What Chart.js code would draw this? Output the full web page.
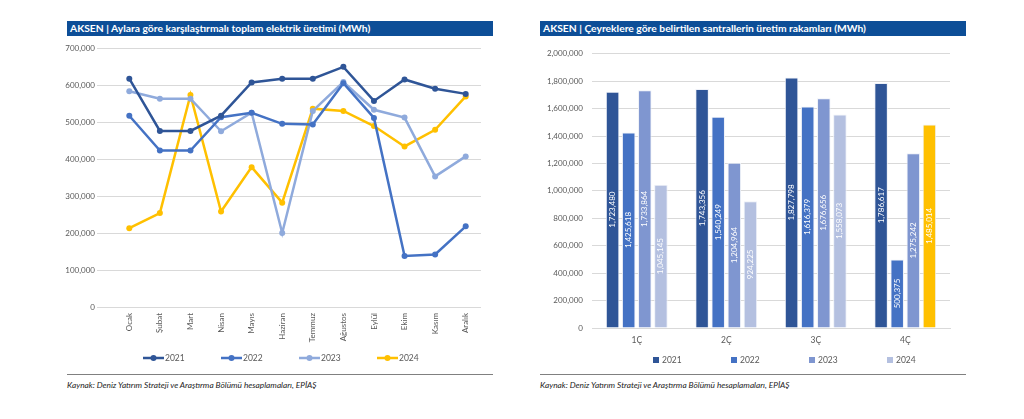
<!DOCTYPE html>
<html>
<head>
<meta charset="utf-8">
<script src="https://cdn.jsdelivr.net/npm/chart.js@4.4.1/dist/chart.umd.min.js"></script>
<style>
  body { margin: 0; width: 1024px; height: 419px; background: #fff; position: relative; overflow: hidden; font-family: Lato, "Open Sans", sans-serif; }
  .baslik { position: absolute; height: 15px; background: #0D4E97; color: #fff; font-weight: bold; font-size: 10.3px; line-height: 15px; padding-left: 3px; box-sizing: border-box; }
  .cizgi { position: absolute; height: 0; border-top: 1.5px solid #808080; }
  .kaynak { position: absolute; font-style: italic; font-size: 8.3px; color: #222; }
  .kutu { position: absolute; }
</style>
</head>
<body>
<div class="baslik" style="left:67px; top:21px; width:426px;">AKSEN | Aylara göre karşılaştırmalı toplam elektrik üretimi (MWh)</div>
<div class="baslik" style="left:540px; top:21px; width:426px;">AKSEN | Çeyreklere göre belirtilen santrallerin üretim rakamları (MWh)</div>

<div class="kutu" style="left:60px; top:40px; width:430px; height:336px;"><canvas id="grafikAylik"></canvas></div>
<div class="kutu" style="left:535px; top:40px; width:430px; height:336px;"><canvas id="grafikCeyrek"></canvas></div>

<div class="cizgi" style="left:67px; top:374px; width:426px;"></div>
<div class="cizgi" style="left:540px; top:374px; width:426px;"></div>
<div class="kaynak" style="left:67px; top:380px;">Kaynak: Deniz Yatırım Strateji ve Araştırma Bölümü hesaplamaları, EPİAŞ</div>
<div class="kaynak" style="left:540px; top:380px;">Kaynak: Deniz Yatırım Strateji ve Araştırma Bölümü hesaplamaları, EPİAŞ</div>

<script>
// Aylık veriler (MWh)
const aylar = ['Ocak', 'Şubat', 'Mart', 'Nisan', 'Mayıs', 'Haziran', 'Temmuz', 'Ağustos', 'Eylül', 'Ekim', 'Kasım', 'Aralık'];
const aylik2021 = [617000, 476000, 476000, 517000, 607000, 617000, 617000, 649000, 557000, 615000, 590000, 576000];
const aylik2022 = [517000, 423000, 423000, 513000, 525000, 495000, 493000, 605000, 511000, 138000, 142000, 218000];
const aylik2023 = [583000, 563000, 563000, 475000, 525000, 200000, 530000, 608000, 533000, 512000, 353000, 407000];
const aylik2024 = [213000, 254000, 573000, 258000, 378000, 282000, 536000, 530000, 489000, 434000, 479000, 569000];

// Çeyreklik veriler (MWh)
const ceyrekler = ['1Ç', '2Ç', '3Ç', '4Ç'];
const ceyrek2021 = [1723480, 1743356, 1827798, 1786617];
const ceyrek2022 = [1425618, 1540249, 1616379, 500375];
const ceyrek2023 = [1733864, 1204964, 1676656, 1275242];
const ceyrek2024 = [1045145, 924225, 1558073, 1485014];

const yazi = 'Lato, "Open Sans", sans-serif';
const griYazi = '#595959';
const izgara = '#d9d9d9';
const binlik = v => Number(v).toLocaleString('en-US');

// Excel tarzı alt açıklama (her seri için sabit aralıkla)
const altAciklama = {
    id: 'altAciklama',
    afterDraw(chart, args, opt) {
        const g = chart.ctx;
        g.save();
        g.font = opt.boyut + 'px ' + yazi;
        g.textBaseline = 'middle';
        g.textAlign = 'left';
        chart.data.datasets.forEach((ds, i) => {
            const x = opt.x0 + i * opt.aralik;
            const renk = ds.legendRenk || ds.borderColor;
            if (opt.tip === 'cizgi') {
                g.strokeStyle = renk; g.lineWidth = 2.5;
                g.beginPath(); g.moveTo(x, opt.y); g.lineTo(x + 21, opt.y); g.stroke();
                g.fillStyle = renk;
                g.beginPath(); g.arc(x + 10.5, opt.y, 3, 0, Math.PI * 2); g.fill();
                g.fillStyle = griYazi;
                g.fillText(ds.label, x + 22, opt.y);
            } else {
                g.fillStyle = renk;
                g.fillRect(x, opt.y - 3, 6, 6);
                g.fillStyle = griYazi;
                g.fillText(ds.label, x + 9, opt.y);
            }
        });
        g.restore();
    }
};

function cizgiSeri(ad, veri, renk) {
    return {
        label: ad, data: veri, borderColor: renk, backgroundColor: renk,
        borderWidth: 2.5, pointRadius: 3, pointBackgroundColor: renk,
        pointBorderWidth: 0, tension: 0
    };
}

new Chart(document.getElementById('grafikAylik'), {
    type: 'line',
    data: {
        labels: aylar,
        datasets: [
            cizgiSeri('2021', aylik2021, '#2F5597'),
            cizgiSeri('2022', aylik2022, '#4472C4'),
            cizgiSeri('2023', aylik2023, '#8FAADC'),
            cizgiSeri('2024', aylik2024, '#FFC000')
        ]
    },
    options: {
        responsive: true, maintainAspectRatio: false, animation: false,
        layout: { padding: { top: 8, right: 9, bottom: 27, left: 0 } },
        plugins: {
            tooltip: { enabled: false },
            legend: { display: false },
            altAciklama: { tip: 'cizgi', x0: 83, aralik: 78, y: 318, boyut: 8.5 }
        },
        scales: {
            x: {
                offset: true,
                grid: { display: false, drawTicks: false },
                border: { display: false },
                ticks: { font: { family: yazi, size: 8 }, color: griYazi, minRotation: 90, maxRotation: 90, padding: 6 },
                afterFit: s => { s.height = 42; }
            },
            y: {
                min: 0, max: 700000,
                grid: { color: izgara, lineWidth: 1, drawTicks: true, tickLength: 17, tickColor: izgara },
                border: { display: false },
                ticks: { stepSize: 100000, font: { family: yazi, size: 8 }, color: griYazi, padding: 2, callback: binlik },
                afterFit: s => { s.width = 54; }
            }
        }
    },
    plugins: [altAciklama]
});

// çubukların içine dikey değer etiketi
const cubukEtiket = {
    id: 'cubukEtiket',
    afterDatasetsDraw(chart) {
        const g = chart.ctx;
        g.save();
        g.fillStyle = '#fff';
        g.font = '8px ' + yazi;
        g.textAlign = 'center';
        g.textBaseline = 'middle';
        chart.data.datasets.forEach((ds, i) => {
            chart.getDatasetMeta(i).data.forEach((bar, j) => {
                const orta = (bar.y + bar.base) / 2;
                g.save();
                g.translate(bar.x, orta);
                g.rotate(-Math.PI / 2);
                g.fillText(binlik(ds.data[j]), 0, 0);
                g.restore();
            });
        });
        g.restore();
    }
};

function cubukSeri(ad, veri, renk, legendRenk) {
    return { label: ad, data: veri, backgroundColor: renk, legendRenk: legendRenk || renk, borderColor: '#eef1f8', borderWidth: 1, borderSkipped: 'bottom' };
}

new Chart(document.getElementById('grafikCeyrek'), {
    type: 'bar',
    data: {
        labels: ceyrekler,
        datasets: [
            cubukSeri('2021', ceyrek2021, '#2F5597'),
            cubukSeri('2022', ceyrek2022, '#4472C4'),
            cubukSeri('2023', ceyrek2023, '#7F96D0'),
            cubukSeri('2024', ceyrek2024, c => c.dataIndex === 3 ? '#FFC000' : '#B4C0E0', '#B4C0E0')
        ]
    },
    options: {
        responsive: true, maintainAspectRatio: false, animation: false,
        layout: { padding: { top: 9, right: 15, bottom: 20, left: 0 } },
        datasets: { bar: { barPercentage: 0.84, categoryPercentage: 0.72 } },
        plugins: {
            tooltip: { enabled: false },
            legend: { display: false },
            altAciklama: { tip: 'kare', x0: 118, aralik: 78, y: 320, boyut: 8.5 }
        },
        scales: {
            x: {
                grid: { display: false, drawTicks: false },
                border: { color: izgara },
                ticks: { font: { family: yazi, size: 8.5 }, color: griYazi, padding: 7 },
                afterFit: s => { s.height = 28; }
            },
            y: {
                min: 0, max: 2000000,
                grid: { color: izgara, lineWidth: 1, drawTicks: false },
                border: { display: false },
                ticks: { stepSize: 200000, font: { family: yazi, size: 8 }, color: griYazi, padding: 9, callback: binlik },
                afterFit: s => { s.width = 57; }
            }
        }
    },
    plugins: [cubukEtiket, altAciklama]
});
</script>
</body>
</html>
